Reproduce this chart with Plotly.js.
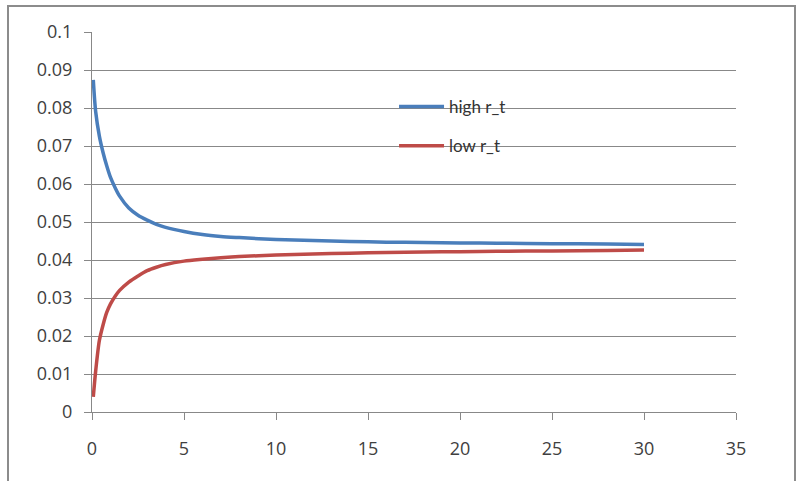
<!DOCTYPE html>
<html>
<head>
<meta charset="utf-8">
<script src="https://cdn.plot.ly/plotly-3.0.1.min.js"></script>
<style>
  html, body { margin: 0; padding: 0; background: #ffffff; }
  #frame { position: absolute; left: 7px; top: 5px; width: 789px; height: 480px; border: 2px solid #8c8c8c; box-sizing: border-box; }
  #chart { position: absolute; left: 0; top: 0; width: 799px; height: 481px; }
</style>
</head>
<body>
<div id="frame"></div>
<div id="chart"></div>
<script>
const tValues = [0.07, 0.2, 0.4, 0.6, 0.8, 1, 1.25, 1.5, 2, 2.5, 3, 3.5, 4, 5, 6, 7, 8, 10, 12, 14, 16, 18, 20, 22, 25, 28, 30];
const highRt = [0.0874, 0.0790, 0.0726, 0.0683, 0.0648, 0.0618, 0.0591, 0.0568, 0.0537, 0.0518, 0.0505, 0.0494, 0.0486, 0.0475, 0.0467, 0.0462, 0.0459, 0.0454, 0.0451, 0.0449, 0.0447, 0.0446, 0.0445, 0.0444, 0.0443, 0.0442, 0.0441];
const lowRt = [0.0040, 0.0108, 0.0188, 0.0229, 0.0262, 0.0284, 0.0304, 0.0320, 0.0342, 0.0358, 0.0372, 0.0381, 0.0388, 0.0397, 0.0402, 0.0406, 0.0409, 0.0413, 0.0416, 0.0418, 0.0420, 0.0421, 0.0422, 0.0423, 0.0424, 0.0425, 0.0426];
const seriesNames = ["high r_t", "low r_t"];

const gridColor = "#888888";
const fontSpec = { family: "'Open Sans', Lato, sans-serif", size: 18, color: "#404040" };

const data = [
  { x: tValues, y: highRt, name: seriesNames[0], type: "scatter", mode: "lines", legendgroup: "a",
    line: { color: "#4A7EBB", width: 3.5, shape: "spline", smoothing: 0.8 } },
  { x: tValues, y: lowRt, name: seriesNames[1], type: "scatter", mode: "lines", legendgroup: "b",
    line: { color: "#BE4B48", width: 3.5, shape: "spline", smoothing: 0.8 } }
];

const layout = {
  width: 799, height: 481,
  margin: { l: 92, r: 63, t: 32, b: 69 },
  paper_bgcolor: "rgba(0,0,0,0)",
  plot_bgcolor: "rgba(0,0,0,0)",
  font: fontSpec,
  showlegend: true,
  legend: {
    x: 0.469, y: 0.85, xanchor: "left", yanchor: "top",
    bgcolor: "rgba(0,0,0,0)", borderwidth: 0,
    font: { family: "Lato, 'Open Sans', sans-serif", size: 17, color: "#333333" },
    traceorder: "grouped", tracegroupgap: 14, itemwidth: 45
  },
  xaxis: {
    range: [0, 35], tick0: 0, dtick: 5,
    showgrid: false, zeroline: false,
    showline: true, linecolor: gridColor, linewidth: 1,
    ticks: "outside", ticklen: 7, tickcolor: gridColor, tickwidth: 1,
    ticklabelstandoff: 13,
    tickfont: fontSpec
  },
  yaxis: {
    range: [0, 0.1], tick0: 0, dtick: 0.01,
    showgrid: true, gridcolor: gridColor, gridwidth: 1,
    zeroline: false,
    showline: true, linecolor: gridColor, linewidth: 1,
    ticks: "outside", ticklen: 7, tickcolor: gridColor, tickwidth: 1,
    ticklabelstandoff: 8,
    tickfont: fontSpec
  }
};

Plotly.newPlot("chart", data, layout, { displayModeBar: false, staticPlot: true });
</script>
</body>
</html>
